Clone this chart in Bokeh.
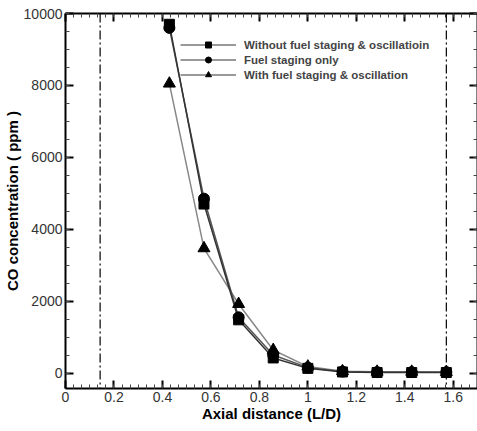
from bokeh.plotting import figure
from bokeh.models import Span, Legend, LegendItem, LinearAxis, Range1d, ColumnDataSource, FixedTicker
from bokeh.embed import file_html
from bokeh.resources import INLINE

# ---- data ----
x_ld = [0.4286, 0.5714, 0.7143, 0.8571, 1.0, 1.1429, 1.2857, 1.4286, 1.5714]
co_without = [9700, 4700, 1480, 420, 130, 30, 15, 15, 15]
co_staging = [9600, 4850, 1550, 500, 150, 40, 25, 25, 25]
co_oscill = [8050, 3470, 1920, 640, 180, 50, 35, 35, 30]
series_labels = ["Without fuel staging & oscillatioin",
                 "Fuel staging only",
                 "With fuel staging & oscillation"]
boundary_ld = [1 / 7, 11 / 7]
x_ticks = [0, 0.2, 0.4, 0.6, 0.8, 1.0, 1.2, 1.4, 1.6]
x_tick_labels = ["0", "0.2", "0.4", "0.6", "0.8", "1", "1.2", "1.4", "1.6"]
y_ticks = [0, 2000, 4000, 6000, 8000, 10000]
x_minor = [i * 0.2 / 6 for i in range(0, 52)]
y_minor = [i * 500 for i in range(-1, 21)]

FONT = "Liberation Sans"

p = figure(width=477, height=425, x_range=Range1d(0, 1.7), y_range=Range1d(-430, 10000),
           output_backend="svg", toolbar_location=None,
           min_border_left=64, min_border_right=0, min_border_top=13, min_border_bottom=37,
           x_axis_label="Axial distance (L/D)", y_axis_label="CO concentration ( ppm )")
p.grid.visible = False
p.outline_line_color = None
p.background_fill_color = "white"
p.border_fill_color = "white"

def style_axis(ax, labels=True):
    ax.axis_line_color = "black"
    ax.axis_line_width = 2
    ax.major_tick_in = 8
    ax.major_tick_out = 0
    ax.minor_tick_in = 4
    ax.minor_tick_out = 0
    ax.major_tick_line_width = 2
    ax.minor_tick_line_width = 1
    ax.major_tick_line_color = "black"
    ax.minor_tick_line_color = "#444444"
    ax.major_label_text_font = FONT
    ax.major_label_text_font_size = "14px" if labels else "0px"
    ax.major_label_text_color = "#333333"
    ax.major_label_standoff = 3 if labels else 0
    ax.axis_label_text_font = FONT
    ax.axis_label_text_font_style = "bold"
    ax.axis_label_text_font_size = "15px"
    ax.axis_label_text_color = "black"
    ax.axis_label_standoff = 0

for ax in p.xaxis:
    style_axis(ax)
    ax.ticker = FixedTicker(ticks=x_ticks, minor_ticks=x_minor)
    ax.major_label_overrides = {t: l for t, l in zip(x_ticks, x_tick_labels)}
for ax in p.yaxis:
    style_axis(ax)
    ax.ticker = FixedTicker(ticks=y_ticks, minor_ticks=y_minor)

top_ax = LinearAxis(ticker=FixedTicker(ticks=x_ticks, minor_ticks=x_minor))
style_axis(top_ax, labels=False)
top_ax.major_label_overrides = {t: "" for t in x_ticks}
p.add_layout(top_ax, "above")
right_ax = LinearAxis(ticker=FixedTicker(ticks=y_ticks, minor_ticks=y_minor))
style_axis(right_ax, labels=False)
right_ax.major_label_overrides = {t: "" for t in y_ticks}
p.add_layout(right_ax, "right")

for b in boundary_ld:
    p.add_layout(Span(location=b, dimension="height", line_color="black",
                      line_width=1.2, line_dash="9 3 2 3"))

src = ColumnDataSource(dict(x=x_ld, a=co_without, b=co_staging, c=co_oscill))
p.line("x", "c", source=src, line_color="#888888", line_width=1.5)
p.line("x", "b", source=src, line_color="#555555", line_width=1.5)
p.line("x", "a", source=src, line_color="#333333", line_width=1.5)
p.scatter("x", "c", source=src, marker="triangle", size=12, color="black")
p.scatter("x", "b", source=src, marker="circle", size=11, color="black")
p.scatter("x", "a", source=src, marker="square", size=10, color="black")

# legend proxies
nan_src = ColumnDataSource(dict(x=[float("nan")], y=[float("nan")]))
items = []
for lab, mk, sz in zip(series_labels, ["square", "circle", "triangle"], [10, 11, 12]):
    lr = p.line("x", "y", source=nan_src, line_color="#999999", line_width=2)
    sr = p.scatter("x", "y", source=nan_src, marker=mk, size=sz, color="black")
    items.append(LegendItem(label=lab, renderers=[lr, sr]))
leg = Legend(items=items, location=(115, 306), padding=0, spacing=0, margin=0,
             glyph_width=56, glyph_height=15, label_height=15, label_standoff=8,
             label_text_font=FONT, label_text_font_style="bold", label_text_font_size="11.5px",
             border_line_color=None, background_fill_alpha=0)
p.add_layout(leg, "center")

open("out.html", "w").write(file_html(p, INLINE))
